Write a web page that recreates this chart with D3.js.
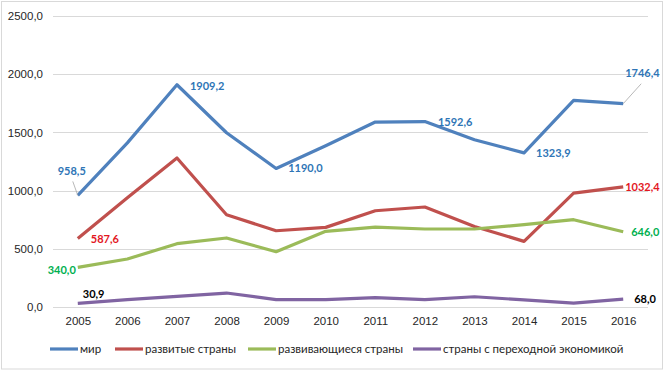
<!DOCTYPE html>
<html>
<head>
<meta charset="utf-8">
<script src="https://cdn.jsdelivr.net/npm/d3@7/dist/d3.min.js"></script>
<style>
  body { margin: 0; background: #fff; }
  svg { font-family: Lato, "Liberation Sans", sans-serif; }
  .grid line { stroke: #d9d9d9; stroke-width: 1; }
  .tick text { fill: #262626; font-size: 11.5px; }
</style>
</head>
<body>
<div id="chart"></div>
<script>
// years on the x axis
var years = ["2005", "2006", "2007", "2008", "2009", "2010", "2011", "2012", "2013", "2014", "2015", "2016"];

// series values
var mir = [958.5, 1410, 1909.2, 1497, 1190.0, 1385, 1589, 1592.6, 1437, 1323.9, 1775, 1746.4];
var razvitye = [587.6, 939, 1280, 793, 655, 684, 827, 859, 692, 564, 979, 1032.4];
var razvivayushchiesya = [340.0, 412, 544, 593, 475, 650, 687, 670, 670, 707, 750, 646.0];
var perekhodnye = [30.9, 63, 91, 120, 63, 63, 80, 63, 88, 61, 34, 68.0];

var yTicks = [0, 500, 1000, 1500, 2000, 2500];

var seriesNames = ["мир", "развитые страны", "развивающиеся страны", "страны с переходной экономикой"];

var series = [
  { name: seriesNames[0], values: mir, color: "#4f81bd", labelColor: "#2e75b6" },
  { name: seriesNames[1], values: razvitye, color: "#c0504d", labelColor: "#e3171f" },
  { name: seriesNames[2], values: razvivayushchiesya, color: "#9bbb59", labelColor: "#00b050" },
  { name: seriesNames[3], values: perekhodnye, color: "#8064a2", labelColor: "#000000" }
];

// which points get a data label, and where the label sits relative to the point
var labels = [
  { s: 0, i: 0, dx: -6, dy: -20, anchor: "middle", leader: true },
  { s: 0, i: 2, dx: 13, dy: 5, anchor: "start" },
  { s: 0, i: 4, dx: 12, dy: 4, anchor: "start" },
  { s: 0, i: 7, dx: 13, dy: 4, anchor: "start" },
  { s: 0, i: 9, dx: 12, dy: 4, anchor: "start" },
  { s: 0, i: 11, dx: 2, dy: -27, anchor: "start", leader: true },
  { s: 1, i: 0, dx: 13, dy: 4, anchor: "start" },
  { s: 1, i: 11, dx: 2, dy: 4, anchor: "start" },
  { s: 2, i: 0, dx: -2, dy: 7, anchor: "end" },
  { s: 2, i: 11, dx: 8, dy: 4, anchor: "start" },
  { s: 3, i: 0, dx: 5, dy: -5, anchor: "start" },
  { s: 3, i: 11, dx: 11, dy: 4, anchor: "start" }
];

var width = 665;
var height = 372;
var margin = ({ top: 16, right: 17, bottom: 65, left: 53 });

var ru = d3.formatLocale({ decimal: ",", thousands: "", grouping: [3], currency: ["", ""] });
var fmt = ru.format(".1f");

var svg = d3.select("#chart").append("svg")
  .attr("width", width)
  .attr("height", height);

// outer border of the chart
svg.append("rect")
  .attr("x", 1.5).attr("y", 1.5)
  .attr("width", width - 4).attr("height", height - 4.5)
  .attr("fill", "#fff")
  .attr("stroke", "#d9d9d9");

var xScale = d3.scalePoint()
  .domain(years)
  .range([margin.left, width - margin.right])
  .padding(0.5);

var yScale = d3.scaleLinear()
  .domain([0, 2500])
  .range([height - margin.bottom, margin.top]);

// horizontal grid
svg.append("g").attr("class", "grid")
  .selectAll("line")
  .data(yTicks)
  .join("line")
  .attr("x1", margin.left)
  .attr("x2", width - margin.right)
  .attr("y1", d => Math.round(yScale(d)) + 0.5)
  .attr("y2", d => Math.round(yScale(d)) + 0.5);

// y axis labels
svg.append("g")
  .attr("transform", `translate(${margin.left},0)`)
  .call(d3.axisLeft(yScale).tickValues(yTicks).tickFormat(fmt).tickSize(0).tickPadding(10))
  .call(g => g.select(".domain").remove());

// x axis labels
svg.append("g")
  .attr("transform", `translate(0,${height - margin.bottom})`)
  .call(d3.axisBottom(xScale).tickSize(0).tickPadding(10))
  .call(g => g.select(".domain").remove());

var line = d3.line()
  .x((d, i) => xScale(years[i]))
  .y(d => yScale(d));

svg.append("g").selectAll("path")
  .data(series)
  .join("path")
  .attr("fill", "none")
  .attr("stroke", d => d.color)
  .attr("stroke-width", 3.2)
  .attr("stroke-linejoin", "round")
  .attr("d", d => line(d.values));

// data labels
var lab = svg.append("g");
labels.forEach(function (l) {
  var s = series[l.s];
  var px = xScale(years[l.i]);
  var py = yScale(s.values[l.i]);
  if (l.leader) {
    lab.append("line")
      .attr("x1", px)
      .attr("y1", py)
      .attr("x2", l.dx < 0 ? px - 5 : px + 18)
      .attr("y2", l.dx < 0 ? py + l.dy + 6 : py + l.dy + 7)
      .attr("stroke", "#a6a6a6")
      .attr("stroke-width", 0.8);
  }
  lab.append("text")
    .attr("x", px + l.dx)
    .attr("y", py + l.dy)
    .attr("text-anchor", l.anchor)
    .attr("fill", s.labelColor)
    .attr("font-weight", "bold")
    .attr("font-size", "11px")
    .text(fmt(s.values[l.i]));
});

// legend
var legendX = [50, 115, 248, 413];
var legend = svg.append("g")
  .selectAll("g")
  .data(series)
  .join("g")
  .attr("transform", (d, i) => `translate(${legendX[i]},349)`);

legend.append("line")
  .attr("x1", 0).attr("x2", 28)
  .attr("stroke", d => d.color)
  .attr("stroke-width", 3.2);

legend.append("text")
  .attr("x", 30)
  .attr("dy", "0.35em")
  .attr("fill", "#262626")
  .attr("font-size", "11.5px")
  .text(d => d.name);
</script>
</body>
</html>
